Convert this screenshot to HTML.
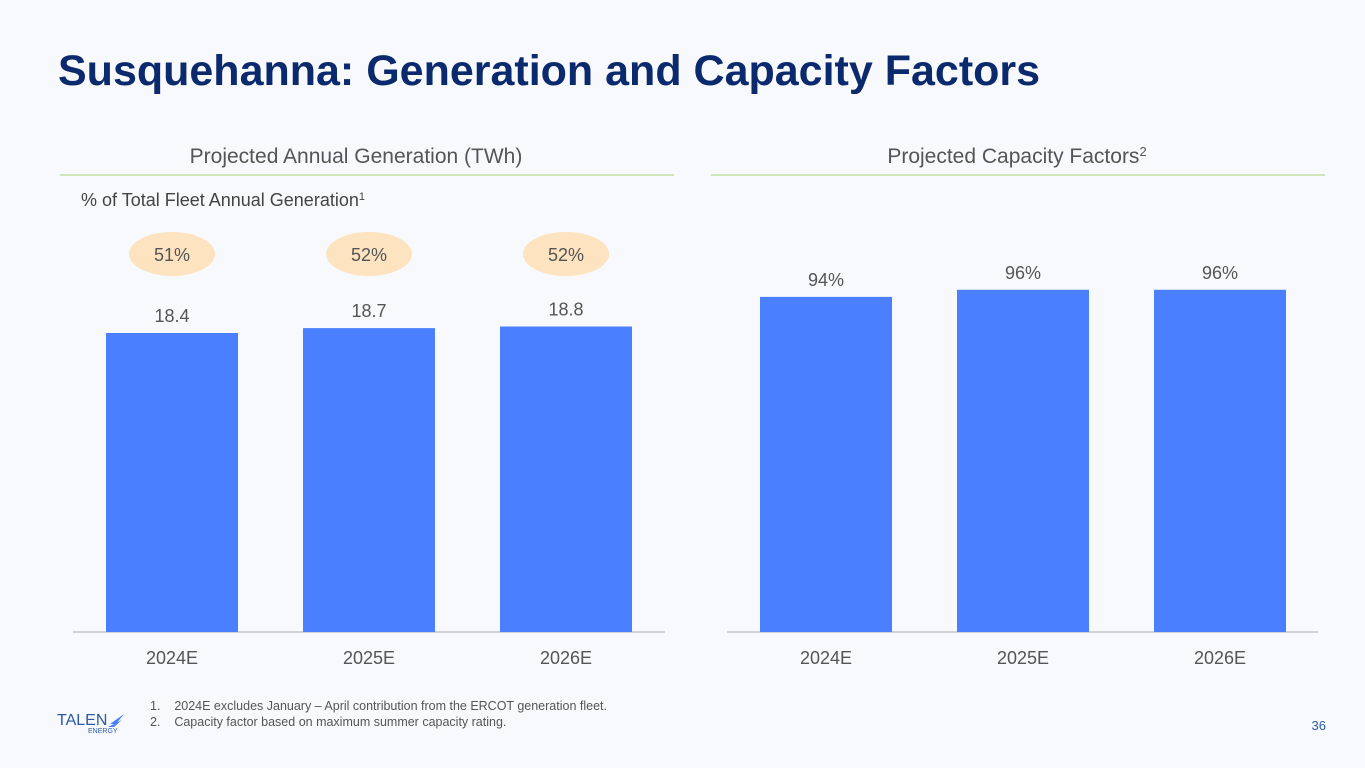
<!DOCTYPE html>
<html><head><meta charset="utf-8"><style>
body{margin:0;width:1365px;height:768px;background:#f8f9fc;font-family:"Liberation Sans",sans-serif;overflow:hidden;position:relative}
.t{position:absolute;white-space:nowrap}
</style></head><body>
<div class="t" style="left:58px;top:47px;font-size:43px;font-weight:bold;color:#0b2a6e;letter-spacing:0px">Susquehanna: Generation and Capacity Factors</div>
<svg id="c" width="1365" height="768" style="position:absolute;left:0;top:0">
<text x="356" y="163" text-anchor="middle" font-size="21" fill="#555">Projected Annual Generation (TWh)</text>
<line x1="60" y1="175" x2="674" y2="175" stroke="#a6d47a" stroke-width="1"/>
<text x="1017" y="163" text-anchor="middle" font-size="21" fill="#555">Projected Capacity Factors<tspan font-size="13" dy="-7">2</tspan></text>
<line x1="711" y1="175" x2="1325" y2="175" stroke="#a6d47a" stroke-width="1"/>
<text x="81" y="206" font-size="18" fill="#444">% of Total Fleet Annual Generation<tspan font-size="11" dy="-6">1</tspan></text>
<line x1="73" y1="632" x2="665" y2="632" stroke="#aaa"/>
<line x1="727" y1="632" x2="1318" y2="632" stroke="#aaa"/>
<g font-size="12.5" fill="#555">
<text x="150" y="710">1.&#160;&#160;&#160;&#160;2024E excludes January – April contribution from the ERCOT generation fleet.</text>
<text x="150" y="726">2.&#160;&#160;&#160;&#160;Capacity factor based on maximum summer capacity rating.</text>
</g>
<text x="57" y="725" font-size="16" fill="#2a5aa8">TALEN</text>
<text x="88" y="733" font-size="7" fill="#2a5aa8">ENERGY</text>
<path d="M110 724 L124 714 L116 724 Z M108 727 L122 720 L114 727 Z" fill="#4a7fff"/>
<text x="1326" y="730" font-size="13" fill="#2a5aa8" text-anchor="end">36</text>
</svg>
<script>
const categories=["2024E","2025E","2026E"];
const generation=[18.4,18.7,18.8];
const generationLabels=["18.4","18.7","18.8"];
const fleetShare=["51%","52%","52%"];
const capacity=[94,96,96];
const capacityLabels=["94%","96%","96%"];
const svg=document.getElementById('c');
const NS="http://www.w3.org/2000/svg";
function mk(t,a,txt){const e=document.createElementNS(NS,t);for(const k in a)e.setAttribute(k,a[k]);if(txt!=null)e.textContent=txt;svg.appendChild(e);return e;}
const base=632;
const yGen=v=>base-v*16.25;
const yCap=v=>base-v*3.565;
function draw(x0,vals,labels,yf,pref,ellipses){
 vals.forEach((v,i)=>{
  const x=x0+i*197,y=yf(v);
  const r=mk('rect',{x:x,y:y,width:132,height:base-y,fill:'#4a80fe'});
  
  
  const l=mk('text',{x:x+66,y:y-11,'text-anchor':'middle','font-size':18,fill:'#555'},labels[i]);
  
  
  const c=mk('text',{x:x+66,y:664,'text-anchor':'middle','font-size':18,fill:'#555'},categories[i]);
  
  
  if(ellipses){
   const e=mk('ellipse',{cx:x+66,cy:254,rx:43,ry:22,fill:'#fde3bf'});
   
   
   const et=mk('text',{x:x+66,y:261,'text-anchor':'middle','font-size':18,fill:'#555'},ellipses[i]);
   
   
  }
 });
}
draw(106,generation,generationLabels,yGen,'generation',fleetShare);
draw(760,capacity,capacityLabels,yCap,'capacity',null);
</script>
</body></html>
